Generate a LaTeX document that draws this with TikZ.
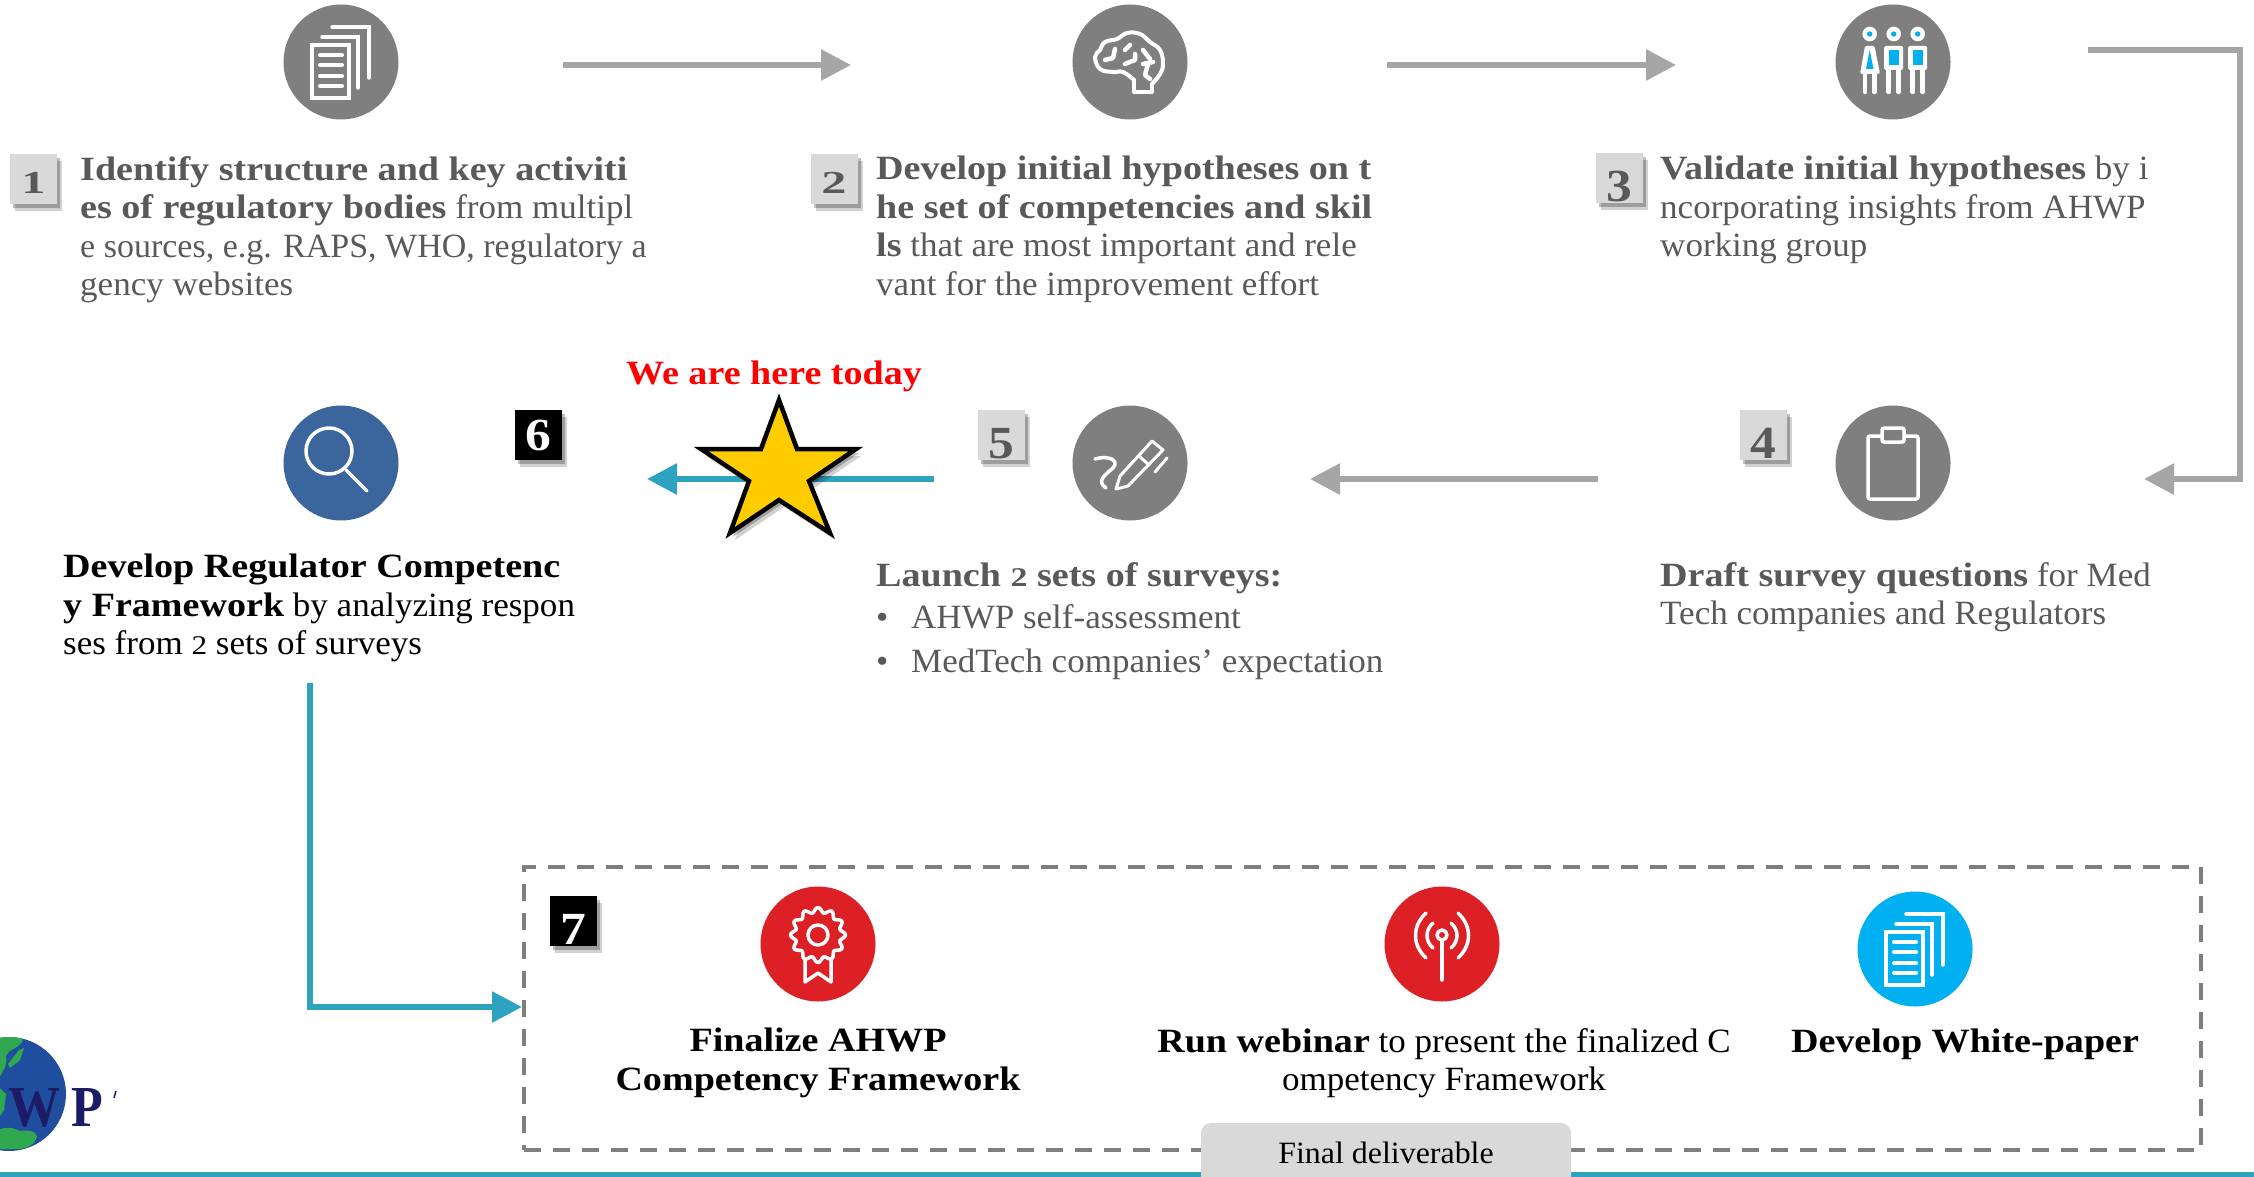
\documentclass[tikz,border=0pt]{standalone}
\usepackage{fontspec}
\setmainfont[FakeStretch=1.03,BoldFeatures={FakeStretch=1.12}]{Liberation Serif}
\newfontfamily\capsfont[FakeStretch=1.0]{Liberation Serif}
\usetikzlibrary{arrows.meta,shadows}
\definecolor{txtgray}{HTML}{595959}
\definecolor{arrgray}{HTML}{A6A6A6}
\definecolor{icongray}{HTML}{7F7F7F}
\definecolor{teal}{HTML}{2EA3BF}
\definecolor{boxgray}{HTML}{D9D9D9}
\definecolor{iconred}{HTML}{DD1F26}
\definecolor{iconblue}{HTML}{00B0F0}
\definecolor{magblue}{HTML}{3A659D}
\definecolor{starfill}{HTML}{FFCC00}
\definecolor{navy}{HTML}{1B1B66}
\definecolor{globeblue}{HTML}{1F4E9E}
\definecolor{land}{HTML}{2FA84F}
\newcommand\otwo{{\fontsize{27}{27}\selectfont\scalebox{1.12}[1]{2}}}
\newcommand\dropnum[2]{\raisebox{-#1pt}[\height][0pt]{#2}}
\tikzset{
  softshadow/.style={drop shadow={shadow xshift=5pt,shadow yshift=-7pt,opacity=.18,fill=black},
                     drop shadow={shadow xshift=3pt,shadow yshift=-4pt,opacity=.25,fill=black}},
  icon/.style={circle,minimum size=115pt,inner sep=0pt,draw=none},
  numgray/.style={rectangle,fill=boxgray,minimum width=47pt,minimum height=50pt,inner sep=0pt,text=txtgray,
    font=\fontsize{46}{46}\selectfont\bfseries,softshadow},
  numblack/.style={rectangle,fill=black,minimum width=47pt,minimum height=50pt,inner sep=0pt,text=white,
    font=\fontsize{46}{46}\selectfont\bfseries,softshadow},
  numsmall/.style={font=\fontsize{32}{32}\selectfont\bfseries},
  body/.style={anchor=north west,inner sep=0pt,align=left,text=txtgray,font=\fontsize{34}{38.5}\selectfont},
  bodyb/.style={anchor=base west,inner sep=0pt,text=txtgray,font=\fontsize{34}{38.5}\selectfont},
  bodyk/.style={body,text=black},
  bodyc/.style={anchor=north,inner sep=0pt,align=center,text=black,font=\fontsize{34}{38.5}\selectfont},
  logotext/.style={anchor=base west,inner sep=0pt,text=navy,font=\fontsize{58}{58}\selectfont\bfseries},
  grayarrow/.style={draw=arrgray,line width=6pt,-{Triangle[length=30pt,width=30pt]}},
  tealarrow/.style={draw=teal,line width=6pt,-{Triangle[length=30pt,width=30pt]}},
  ln/.style={draw=white,line width=3.5pt,fill=none,line cap=round,line join=round},
  docs/.pic={
    \draw[white,line width=3.5pt] (-29,-17) rectangle (8,36);
    \foreach \yy in {-7,3,14,24} \draw[ln,line width=4pt] (-21,\yy) -- (1,\yy);
    \draw[white,line width=3.5pt,line cap=round] (-19,-25) -- (17,-25) -- (17,26);
    \draw[white,line width=3.5pt,line cap=round] (-9,-35) -- (28,-35) -- (28,16);
  },
  brain/.pic={
    \draw[ln,line width=4pt] (4,18) -- (4,30) -- (22,30) -- (22,22);
    \draw[ln,line width=4pt] plot[smooth,tension=.7] coordinates {(22,22) (30,12) (33,2) (30,-12) (20,-20) (10,-28) (-3,-29) (-13,-23) (-25,-20) (-30,-12) (-35,-5) (-30,7) (-17,10) (-7,10) (4,18)};
    \draw[ln,line width=4.5pt] (-25,-2) -- (-17,-4) -- (-15,-13);
    \draw[ln,line width=4.5pt] (-5,-12) -- (0,-17);
    \draw[ln,line width=4.5pt] (-5,2) -- (5,-2) -- (5,-8);
    \draw[ln,line width=4.5pt] (13,-12) -- (20,-3);
    \draw[ln,line width=4.5pt] (13,2) -- (23,0);
    \draw[ln,line width=4.5pt] (18,2) -- (15,13) -- (20,17);
  },
  head/.pic={
    \fill[white] (0,0) circle[radius=7.3];
    \fill[iconblue] (0,0) circle[radius=2.7];
  },
  man/.pic={
    \draw[ln,line width=4.5pt] (-5,8) -- (-5,30);
    \draw[ln,line width=4.5pt] (5,8) -- (5,30);
    \fill[white,rounded corners=1.5pt] (-9.5,-16) rectangle (9.5,8);
    \fill[iconblue] (-5,-12) rectangle (5,3);
  },
  people/.pic={
    \path (-23.3,-28) pic {head} (0.7,-28) pic {head} (24.7,-28) pic {head};
    \path (0.7,0) pic {man} (24.7,0) pic {man};
    \draw[ln,line width=4.5pt] (-28,10) -- (-28,30);
    \draw[ln,line width=4.5pt] (-18.5,10) -- (-18.5,30);
    \fill[white,rounded corners=1.5pt] (-28,-16) -- (-18.5,-16) -- (-13,12) -- (-33,12) -- cycle;
    \fill[iconblue] (-23.3,-12) -- (-19.5,7) -- (-27,7) -- cycle;
  },
  pencil/.pic={
    \draw[ln,line width=3pt] (-14,26) -- (-10,13) -- (22,-22) -- (33,-13) -- (-2,23) -- cycle;
    \draw[ln,line width=3pt] (9,-7) -- (19,2);
    \draw[ln,line width=3pt] (37,-5) -- (25,9);
    \draw[ln,line width=3.5pt] (-35,-4) .. controls (-22,-8) and (-10,-3) .. (-17,5) .. controls (-25,12) and (-34,18) .. (-24,25);
  },
  clipb/.pic={
    \draw[white,line width=3.5pt,line join=round,rounded corners=2pt] (-25,-27) rectangle (25,36);
    \draw[white,line width=3.5pt,fill=icongray,rounded corners=2pt] (-11,-35) rectangle (11,-21);
  },
  magn/.pic={
    \draw[ln] (-12,-12) circle[radius=23];
    \draw[ln] (5,7) -- (26,28);
  },
  badge/.pic={
    \draw[ln] plot[domain=0:360,samples=120,smooth] ({(25+2.5*cos(12*\x))*cos(\x)},{-9+(25+2.5*cos(12*\x))*sin(\x)}) -- cycle;
    \draw[ln] (0,-9) circle[radius=10];
    \draw[ln] (-13,15) -- (-13,38) -- (0,29) -- (13,38) -- (13,15);
  },
  antenna/.pic={
    \draw[ln] (0,-9) circle[radius=5];
    \draw[ln] (0,-3) -- (0,36);
    \draw[ln] (-9,-21) .. controls (-17,-14) and (-17,-3) .. (-9,4);
    \draw[ln] (9,-21) .. controls (17,-14) and (17,-3) .. (9,4);
    \draw[ln] (-16,-31) .. controls (-30,-18) and (-30,1) .. (-16,14);
    \draw[ln] (16,-31) .. controls (30,-18) and (30,1) .. (16,14);
  },
}
\begin{document}
\begin{tikzpicture}[x=1pt,y=-1pt]
\useasboundingbox (0,0) rectangle (2254,1177);
% bottom rule
\fill[teal] (0,1172) rectangle (2254,1177);
% dashed frame
\node[draw=icongray,line width=3.5pt,dash pattern=on 17pt off 12pt,rectangle,inner sep=0pt,
  minimum width=1677pt,minimum height=283pt,anchor=north west] (frame) at (522,865) {};
% free ends
\coordinate (a1s) at (563,65); \coordinate (a1e) at (851,65);
\coordinate (a2s) at (1387,65); \coordinate (a2e) at (1676,65);
\coordinate (a3s) at (2088,50); \coordinate (a3c) at (2240,50); \coordinate (a3d) at (2240,479); \coordinate (a3e) at (2144,479);
\coordinate (a4s) at (1598,479); \coordinate (a4e) at (1310,479);
\coordinate (a5s) at (934,479); \coordinate (a5e) at (647,479);
\coordinate (a6s) at (310,683); \coordinate (a6c) at (310,1007); \coordinate (a6e) at (frame.west |- a6c);
\draw[grayarrow] (a1s) -- (a1e);
\draw[grayarrow] (a2s) -- (a2e);
\draw[grayarrow,line join=miter] (a3s) -- (a3c) -- (a3d) -- (a3e);
\draw[grayarrow] (a4s) -- (a4e);
\draw[tealarrow] (a5s) -- (a5e);
\draw[tealarrow,line join=miter] (a6s) -- (a6c) -- (a6e);
% icons
\node[icon,fill=icongray] (c1) at (341,62) {}; \path (c1.center) pic {docs};
\node[icon,fill=icongray] (c2) at (1130,62) {}; \path (c2.center) pic {brain};
\node[icon,fill=icongray] (c3) at (1893,62) {}; \path (c3.center) pic {people};
\node[icon,fill=icongray] (c4) at (1893,463) {}; \path (c4.center) pic {clipb};
\node[icon,fill=icongray] (c5) at (1130,463) {}; \path (c5.center) pic {pencil};
\node[icon,fill=magblue] (c6) at (341,463) {}; \path (c6.center) pic {magn};
\node[icon,fill=iconred] (c7) at (818,944) {}; \path (c7.center) pic {badge};
\node[icon,fill=iconred] (c8) at (1442,944) {}; \path (c8.center) pic {antenna};
\node[icon,fill=iconblue] (c9) at (1915,949) {}; \path (c9.center) pic {docs};
% number boxes
\node[numgray,numsmall] (n1) at (33.5,179.5) {\dropnum{3}{\scalebox{1.35}[1]{1}}};
\node[numgray,numsmall] (n2) at (834,179.5) {\dropnum{3}{\scalebox{1.4}[1]{2}}};
\node[numgray] (n3) at (1619,178.5) {\dropnum{8}{3}};
\node[numgray] (n4) at (1763,435) {\dropnum{8}{4}};
\node[numgray] (n5) at (1001,435) {\dropnum{8}{5}};
\node[numblack] (n6) at (538,435) {6};
\node[numblack] (n7) at (573,921) {\dropnum{8}{7}};
% star
\draw[fill=starfill,draw=black,line width=4.5pt,miter limit=10,softshadow]
  (779,400) -- (797,449) -- (856,449) -- (809,481) -- (830,533) -- (779,500)
  -- (730,533) -- (749,481) -- (701,449) -- (761,449) -- cycle;
% texts
\node[body] (t1) at (80,156) {\textbf{Identify structure and key activiti}\\\textbf{es of regulatory bodies} from multipl\\{\capsfont e sources, e.g. RAPS, WHO, regulatory a}\\gency websites};
\node[body] (t2) at (876,156) {\textbf{Develop initial hypotheses on t}\\\textbf{he set of competencies and skil}\\\textbf{ls} that are most important and rele\\vant for the improvement effort};
\node[body] (t3) at (1660,156) {\textbf{Validate initial hypotheses} by i\\ncorporating insights from AHWP\\working group};
\node[body] (t4) at (1660,562) {\textbf{Draft survey questions} for Med\\Tech companies and Regulators};
\node[body] (t5) at (876,562) {\textbf{Launch \otwo{} sets of surveys:}};
\node[bodyb] (b1) at (876,628) {•};
\node[bodyb] (t5a) at (911,628) {AHWP self-assessment};
\node[bodyb] (b2) at (876,672) {•};
\node[bodyb] (t5b) at (911,672) {MedTech companies’ expectation};
\node[bodyk] (t6) at (63,554) {\textbf{Develop Regulator Competenc}\\\textbf{y Framework} by analyzing respon\\ses from \otwo{} sets of surveys};
\node[bodyc] (t7) at (818,1028) {\textbf{Finalize AHWP}\\\textbf{Competency Framework}};
\node[bodyc] (t8) at (1444,1028) {\textbf{Run webinar} to present the finalized C\\ompetency Framework};
\node[bodyc] (t9) at (1965,1029) {\textbf{Develop White-paper}};
\node[anchor=base,inner sep=0pt,text=red,font=\fontsize{34}{38.5}\selectfont\bfseries] (here) at (774,384) {We are here today};
% final deliverable
\fill[boxgray,rounded corners=10pt] (1201,1123) rectangle (1571,1190);
\node[anchor=base,inner sep=0pt,text=black,font=\fontsize{31}{38}\selectfont] (fd) at (1386,1163) {Final deliverable};
% logo
\fill[globeblue] (9,1094) circle[radius=57];
\begin{scope}
\clip (9,1094) circle[radius=57];
\fill[land] (-50,1030) -- (25,1030) -- (22,1042) .. controls (16,1050) and (10,1048) .. (6,1056) .. controls (8,1066) and (2,1072) .. (-2,1080) -- (-50,1080) -- cycle;
\fill[land] (19,1050) -- (24,1048) -- (20,1060) -- (10,1068) -- (8,1064) -- cycle;
\fill[land] (-2,1130) .. controls (8,1126) and (14,1128) .. (20,1131) .. controls (28,1130) and (35,1130) .. (37,1136) .. controls (36,1144) and (28,1148) .. (20,1149) -- (-2,1149) -- cycle;
\fill[land] (0,1088) -- (6,1094) -- (4,1110) -- (0,1116) -- cycle;
\end{scope}
\node[logotext] (logow) at (8,1126) {\scalebox{.8}[1]{W}};
\node[logotext] (logop) at (71,1126) {\scalebox{.8}[1]{P}};
\draw[navy,line width=1.5pt] (116,1091) -- (114,1098);
\end{tikzpicture}
\end{document}
